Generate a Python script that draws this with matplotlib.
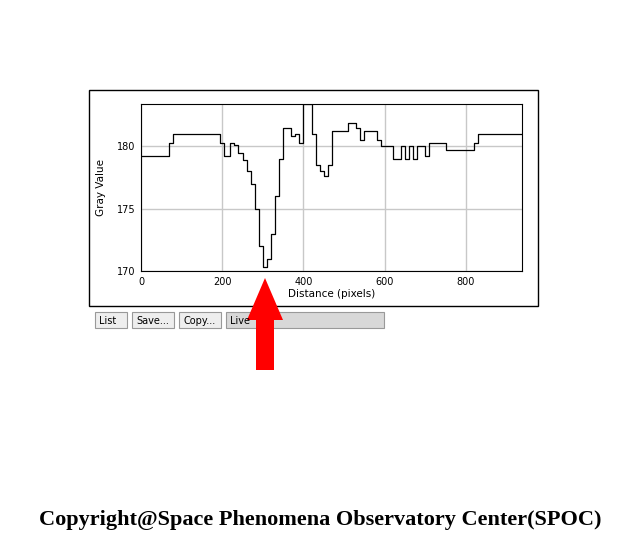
import matplotlib.pyplot as plt
from matplotlib.patches import Rectangle, FancyArrow

distance = [0, 70, 80, 195, 205, 220, 230, 240, 250, 260, 270, 280, 290, 300, 310,
            320, 330, 340, 350, 370, 380, 390, 400, 420, 430, 440, 450, 460, 470,
            510, 530, 540, 550, 580, 590, 620, 640, 650, 660, 670, 680, 700, 710,
            750, 820, 830, 940]
gray = [179.2, 180.3, 181, 180.3, 179.2, 180.3, 180.1, 179.5, 178.9, 178, 177, 175,
        172, 170.3, 171, 173, 176, 179, 181.5, 180.8, 181, 180.3, 183.4, 181, 178.5,
        178, 177.6, 178.5, 181.2, 181.9, 181.5, 180.5, 181.2, 180.5, 180, 179, 180,
        179, 180, 179, 180, 179.2, 180.3, 179.7, 180.3, 181, 181]
buttons = ["List", "Save...", "Copy...", "Live"]

W, H = 640, 551
fig = plt.figure(figsize=(6.4, 5.51), dpi=100)

def fx(p): return p / W
def fy(p): return 1 - p / H

# outer plot window frame
fig.patches.append(Rectangle((fx(89), fy(306)), fx(449), 216 / H, transform=fig.transFigure,
                             fill=False, lw=1, ec='black'))

ax = fig.add_axes([fx(141), fy(271), fx(522 - 141), (271 - 104) / H])
ax.step(distance, gray, where='post', color='black', lw=0.9)
ax.set_xlim(0, 938)
ax.set_ylim(170, 183.4)
ax.set_xticks([0, 200, 400, 600, 800])
ax.set_yticks([170, 175, 180])
ax.grid(color='#c8c8c8', lw=1)
ax.tick_params(labelsize=7, length=0, pad=4)
ax.set_xlabel("Distance (pixels)", fontsize=7.5, labelpad=2)
ax.set_ylabel("Gray Value", fontsize=7.5, labelpad=8)

# buttons
bx = [95, 132, 179, 226]
bw = [32, 42, 42, 158]
for x, w, t in zip(bx, bw, buttons):
    fc = '#d8d8d8' if t == "Live" else '#eeeeee'
    fig.patches.append(Rectangle((fx(x), fy(328)), fx(w), 16 / H, transform=fig.transFigure,
                                 fc=fc, ec='#999999', lw=0.8))
    fig.text(fx(x + 4), fy(321), t, fontsize=7, va='center')

# red arrow
fig.patches.append(FancyArrow(fx(265), fy(370), 0, 92 / H, width=18 / W, head_width=36 / W,
                              head_length=42 / H, length_includes_head=True,
                              transform=fig.transFigure, color='red', lw=0))

fig.text(0.5, fy(520), "Copyright@Space Phenomena Observatory Center(SPOC)",
         ha='center', va='center', fontsize=16, fontweight='bold', family='Liberation Serif')

fig.savefig("out.png", dpi=100)
